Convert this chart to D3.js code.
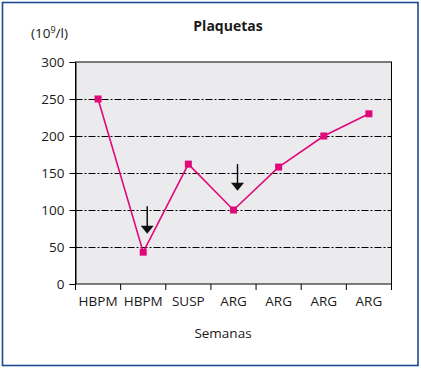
<!DOCTYPE html>
<html><head><meta charset="utf-8">
<script src="https://cdn.jsdelivr.net/npm/d3@7"></script>
<style>body{margin:0;background:#fff}text{font-family:"Open Sans",sans-serif;fill:#1a1a1a}</style>
</head><body>
<script>
const categories = ["HBPM","HBPM","SUSP","ARG","ARG","ARG","ARG"];
const values = [250, 43, 162, 100, 158, 200, 230];
const yTicks = [0,50,100,150,200,250,300];
// arrows: category index, start value, end value
const arrowIdx = [1, 3];
const arrowFrom = [105, 162];
const arrowTo = [68, 126];

const W=421,H=370;
const svg=d3.select("body").append("svg").attr("width",W).attr("height",H);
svg.append("rect").attr("x",2.5).attr("y",2.5).attr("width",415.5).attr("height",363)
  .attr("fill","#fff").attr("stroke","#1d4a8f").attr("stroke-width",1.6);

const L=75.5,R=391.5,T=62,B=284;
const x=d3.scaleBand().domain(d3.range(categories.length)).range([L,R]).padding(0);
const y=d3.scaleLinear().domain([0,300]).range([B,T]);

svg.append("rect").attr("x",L).attr("y",T).attr("width",R-L).attr("height",B-T).attr("fill","#ebebed");
svg.append("g").selectAll("line").data(yTicks.filter(d=>d>0&&d<300)).join("line")
  .attr("x1",L).attr("x2",R).attr("y1",d=>Math.round(y(d))+0.5).attr("y2",d=>Math.round(y(d))+0.5)
  .attr("stroke","#000").attr("stroke-width",1).attr("stroke-dasharray","7,2,2,2");
svg.append("rect").attr("x",L).attr("y",T).attr("width",R-L).attr("height",B-T)
  .attr("fill","none").attr("stroke","#000").attr("stroke-width",1);

const ya=svg.append("g").attr("transform",`translate(${L},0)`)
  .call(d3.axisLeft(y).tickValues(yTicks).tickSize(6).tickPadding(5));
ya.select(".domain").attr("stroke","#000");
ya.selectAll("text").style("font-size","13.5px").attr("fill","#1a1a1a");

const xa=svg.append("g").attr("transform",`translate(0,${B})`)
  .call(d3.axisBottom(x).tickSize(0).tickFormat(i=>categories[i]).tickPadding(12));
xa.select(".domain").remove();
xa.selectAll("text").style("font-size","13.5px").attr("fill","#1a1a1a");
svg.append("g").selectAll("line").data(d3.range(categories.length+1)).join("line")
  .attr("x1",i=>L+i*x.bandwidth()).attr("x2",i=>L+i*x.bandwidth())
  .attr("y1",B).attr("y2",B+6).attr("stroke","#000");

const cx=i=>x(i)+x.bandwidth()/2;
svg.append("path").datum(values).attr("fill","none").attr("stroke","#e0087b").attr("stroke-width",1.6)
  .attr("d",d3.line().x((d,i)=>cx(i)).y(d=>y(d)));
svg.append("g").selectAll("rect").data(values).join("rect")
  .attr("x",(d,i)=>cx(i)-3.5).attr("y",d=>y(d)-3.5).attr("width",7).attr("height",7).attr("fill","#e0087b");

arrowIdx.forEach((ci,k)=>{
  const ax=cx(ci)+4;
  const y1=y(arrowFrom[k]), y2=y(arrowTo[k]);
  svg.append("line").attr("x1",ax).attr("x2",ax).attr("y1",y1).attr("y2",y2-6).attr("stroke","#000").attr("stroke-width",1.4);
  svg.append("path").attr("d",`M${ax-6.5},${y2-8}L${ax+6.5},${y2-8}L${ax},${y2}Z`).attr("fill","#111");
});

svg.append("text").attr("x",228).attr("y",31).attr("text-anchor","middle")
  .style("font-size","14px").style("font-weight","bold").text("Plaquetas");
const u=svg.append("text").attr("x",31).attr("y",38).style("font-size","13.5px");
u.append("tspan").text("(10");
u.append("tspan").attr("dy",-5).style("font-size","9px").text("9");
u.append("tspan").attr("dy",5).text("/l)");
svg.append("text").attr("x",223).attr("y",338).attr("text-anchor","middle").style("font-size","13.5px").text("Semanas");
</script>
</body></html>
